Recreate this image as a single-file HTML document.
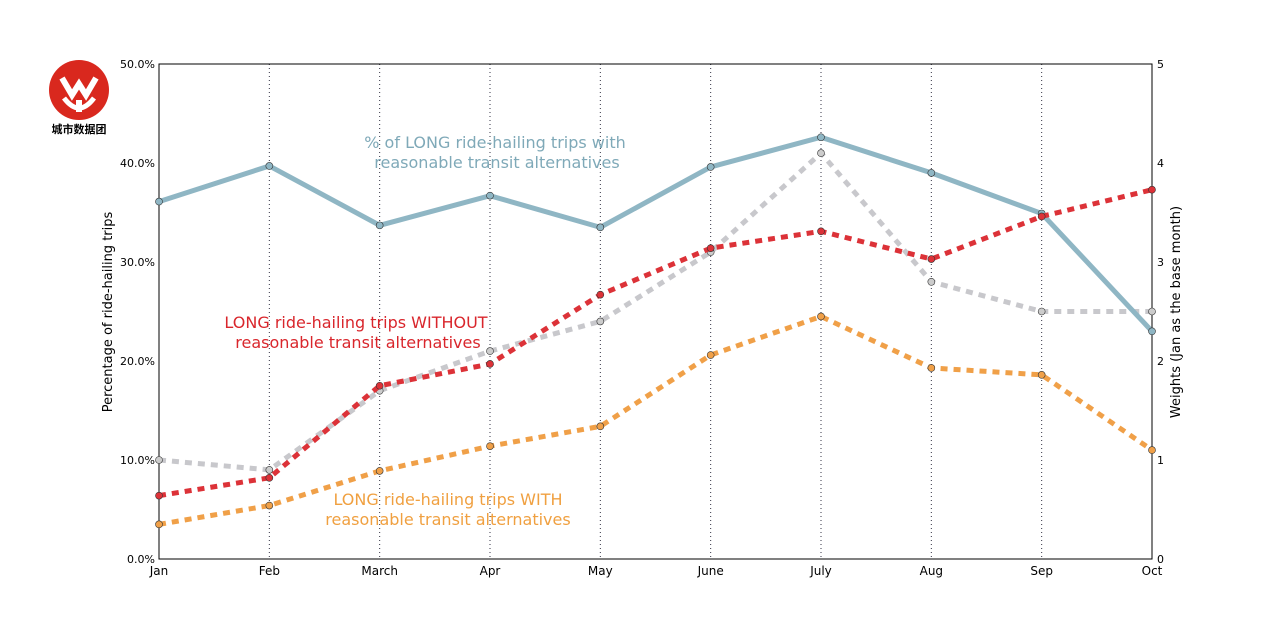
<!DOCTYPE html>
<html><head><meta charset="utf-8"><style>
body{margin:0;background:#fff;width:1280px;height:640px;overflow:hidden;font-family:"DejaVu Sans","Liberation Sans",sans-serif}
</style></head><body>
<svg id="chart" width="1280" height="640" xmlns="http://www.w3.org/2000/svg">
<g>
<circle cx="79" cy="90" r="30" fill="#d9281e"/>
<path d="M62 78 L72 95 L79 84 L86 95 L96 78" stroke="#fff" stroke-width="6" fill="none"/>
<path d="M64 98 Q79 118 94 98" stroke="#fff" stroke-width="5" fill="none"/>
<rect x="76" y="100" width="6" height="12" fill="#fff"/>
<text x="79" y="133" font-size="11" text-anchor="middle" font-family="'Noto Sans CJK SC',sans-serif" font-weight="bold">城市数据团</text>
</g>
<g id="grid"></g>
<rect x="159" y="64" width="993" height="495" fill="none" stroke="#000" stroke-width="1"/>
<g id="axes" font-size="12"></g>
<text x="112" y="312" font-size="13" text-anchor="middle" transform="rotate(-90 112 312)">Percentage of ride-hailing trips</text>
<text x="1180" y="312" font-size="13" text-anchor="middle" transform="rotate(-90 1180 312)">Weights (Jan as the base month)</text>
<g id="series"></g>
<g font-size="16">
<text x="495" y="148" fill="#7fa9b8" text-anchor="middle"><tspan x="495">% of LONG ride-hailing trips with</tspan><tspan x="497" dy="20">reasonable transit alternatives</tspan></text>
<text x="356" y="328" fill="#d9262c" text-anchor="middle"><tspan x="356">LONG ride-hailing trips WITHOUT</tspan><tspan x="358" dy="20">reasonable transit alternatives</tspan></text>
<text x="448" y="505" fill="#f0a040" text-anchor="middle"><tspan x="448">LONG ride-hailing trips WITH</tspan><tspan x="448" dy="20">reasonable transit alternatives</tspan></text>
</g>
</svg>
<script>
const months=["Jan","Feb","March","Apr","May","June","July","Aug","Sep","Oct"];
const blue=[36.1,39.7,33.7,36.7,33.5,39.6,42.6,39.0,34.9,23.0];
const red=[6.4,8.2,17.5,19.7,26.7,31.4,33.1,30.3,34.6,37.3];
const orange=[3.5,5.4,8.9,11.4,13.4,20.6,24.5,19.3,18.6,11.0];
const weights=[1.0,0.9,1.7,2.1,2.4,3.1,4.1,2.8,2.5,2.5];
const leftTicks=["0.0%","10.0%","20.0%","30.0%","40.0%","50.0%"];
const rightTicks=["0","1","2","3","4","5"];
const X0=159,X1=1152,Y0=559,Y1=64;
const xs=i=>X0+(X1-X0)*i/(months.length-1);
const yl=v=>Y0-(Y0-Y1)*v/50;
const yr=v=>Y0-(Y0-Y1)*v/5;
const NS="http://www.w3.org/2000/svg";
function mk(t,a,p){const e=document.createElementNS(NS,t);for(const k in a)e.setAttribute(k,a[k]);p.appendChild(e);return e;}
const grid=document.getElementById('grid'),axes=document.getElementById('axes'),ser=document.getElementById('series');
months.forEach((m,i)=>{
 if(i>0&&i<months.length-1){const l=mk('line',{x1:xs(i),x2:xs(i),y1:Y1,y2:Y0,stroke:'#334',"stroke-width":1,"stroke-dasharray":"1,3"},grid);
 
 }
 const t=mk('text',{x:xs(i),y:575,"text-anchor":"middle"},axes);t.textContent=m;
 
 
});
leftTicks.forEach((s,i)=>{
 const t=mk('text',{x:155,y:yl(i*10)+4,"text-anchor":"end","font-size":11},axes);t.textContent=s;
 
 
 const r=mk('text',{x:1157,y:yr(i)+4,"font-size":11},axes);r.textContent=rightTicks[i];
 
 
});
function line(vals,yf,color,dash,name,mcol){
 const g=mk('g',{},ser);
 
 
 const pts=vals.map((v,i)=>xs(i)+','+yf(v)).join(' ');
 const a={points:pts,fill:'none',stroke:color,"stroke-width":5};
 if(dash)a["stroke-dasharray"]=dash;
 mk('polyline',a,g);
 vals.forEach((v,i)=>{const c=mk('circle',{cx:xs(i),cy:yf(v),r:3.5,fill:mcol,stroke:'#333',"stroke-width":0.6},g);
  
  });
}
line(weights,yr,'#c8c8cc','7,6','weights-line','#ccc');
line(blue,yl,'#8fb6c4',null,'blue-line','#8fb6c4');
line(orange,yl,'#f0a048','7,6','orange-line','#f0a048');
line(red,yl,'#dc3238','7,6','red-line','#dc3238');
</script>
</body></html>
